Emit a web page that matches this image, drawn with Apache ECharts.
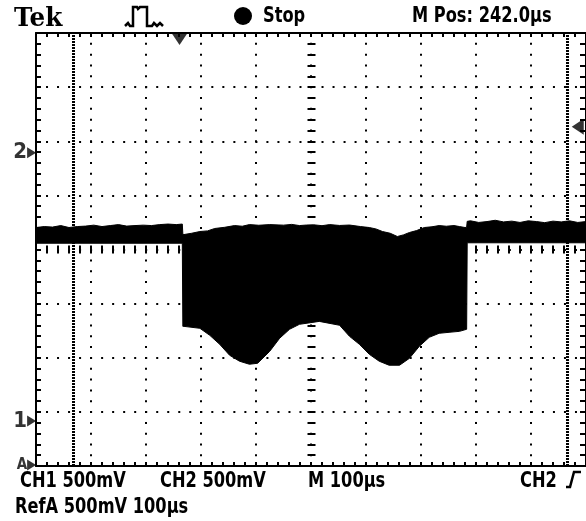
<!DOCTYPE html>
<html><head><meta charset="utf-8">
<script src="https://cdn.jsdelivr.net/npm/echarts@6/dist/echarts.min.js"></script>
<style>html,body{margin:0;padding:0;background:#fff}#c{width:586px;height:521px}</style>
</head><body><div id="c"></div>
<script>
// Time axis (µs, 100 µs/div) and voltage axis (mV relative to screen centre, 500 mV/div)
const timeMin = 0, timeMax = 1000, timeStep = 100;
const mvMin = -2000, mvMax = 2000, mvStep = 500;

// Upper envelope of the trace band (µs, mV)
const upperTime = [0, 15, 30, 45, 60, 75, 90, 105, 120, 135, 150, 165, 180, 195, 210, 225, 240, 255, 266,
  267, 269, 283, 298, 312, 325, 343, 361, 375, 388, 405, 425, 450, 465, 479, 492, 505, 520, 534, 552, 570, 590, 606, 618, 630, 644, 657, 668, 679, 692, 706, 720, 733, 746, 760, 770, 780, 783,
  784, 790, 805, 820, 835, 850, 865, 880, 895, 910, 925, 940, 955, 970, 985, 1000];
const upperMv = [203, 212, 207, 221, 203, 212, 216, 225, 212, 221, 230, 216, 221, 225, 221, 230, 235, 230, 235,
  140, 138, 150, 166, 172, 194, 205, 221, 215, 230, 224, 230, 225, 232, 221, 226, 228, 220, 230, 222, 226, 212, 203, 190, 166, 150, 120, 135, 157, 175, 203, 210, 221, 215, 221, 212, 203, 205,
  260, 265, 250, 258, 270, 255, 262, 250, 265, 258, 248, 262, 255, 265, 250, 258];

// Lower envelope of the trace band (µs, mV)
const lowerTime = [0, 266, 267, 269, 298, 316, 334, 352, 370, 388, 403, 425, 443, 461, 479, 515, 552, 570,
  588, 606, 624, 642, 661, 679, 697, 715, 733, 751, 770, 783, 784, 1000];
const lowerMv = [58, 58, -710, -710, -728, -793, -876, -977, -1032, -1060, -1051, -940, -820, -737, -691, -664, -700, -802,
  -876, -968, -1032, -1069, -1069, -1005, -894, -811, -774, -765, -756, -737, 62, 62];

// Cursors, trigger position / level, channel ground markers
const cursorTimes = [68, 966];
const triggerTime = 261, triggerMarkMv = 1945;
const triggerLevelTime = 985, triggerLevelMv = 1134;
const markerNames = ['2', '1', 'A'];
const markerMv = [894, -1585, -1990];
const markerTime = -8;

// Screen texts
const textTek = 'Tek';
const textStop = 'Stop';
const textMPos = 'M Pos: 242.0µs';
const textCh1 = 'CH1 500mV';
const textCh2 = 'CH2 500mV';
const textM = 'M 100µs';
const textTrig = 'CH2';
const textRef = 'RefA 500mV 100µs';

const FONT = "bold 22px 'DejaVu Sans Condensed','DejaVu Sans',sans-serif";
const SX = 0.82;
const BLACK = '#000';

const bandPoints = [];
upperTime.forEach((t, i) => bandPoints.push([t, upperMv[i]]));
for (let i = lowerTime.length - 1; i >= 0; i--) bandPoints.push([lowerTime[i], lowerMv[i]]);

function axisX(extra) {
  return Object.assign({
    type: 'value', min: timeMin, max: timeMax, interval: timeStep,
    axisLabel: { show: false },
    axisLine: { show: true, onZero: false, lineStyle: { color: BLACK, width: 2 } },
    axisTick: { show: true, inside: true, length: 4, lineStyle: { color: BLACK, width: 2 } },
    minorTick: { show: true, splitNumber: 5, length: 4, lineStyle: { color: BLACK, width: 2 } },
    splitLine: { show: false }
  }, extra);
}
function axisY(extra) {
  return Object.assign({
    type: 'value', min: mvMin, max: mvMax, interval: mvStep,
    axisLabel: { show: false },
    axisLine: { show: true, onZero: false, lineStyle: { color: BLACK, width: 2 } },
    axisTick: { show: true, inside: true, length: 5, lineStyle: { color: BLACK, width: 2 } },
    minorTick: { show: true, splitNumber: 5, length: 5, lineStyle: { color: BLACK, width: 2 } },
    splitLine: { show: false }
  }, extra);
}
function txt(text, x, y) {
  return { type: 'text', x: x, y: y, scaleX: SX, z: 10,
    style: { text: text, font: FONT, fill: BLACK, verticalAlign: 'middle' } };
}

const chart = echarts.init(document.getElementById('c'), null, { renderer: 'canvas' });
chart.setOption({
  animation: false,
  backgroundColor: '#fff',
  grid: { left: 36, top: 33, width: 551, height: 433 },
  xAxis: [
    axisX({ position: 'bottom',
      splitLine: { show: true, lineStyle: { color: BLACK, width: 2, type: [2, 8.83], dashOffset: 1 } } }),
    axisX({ position: 'top' }),
    axisX({ position: 'bottom', offset: -216.5, axisLine: { show: false, onZero: false },
      axisTick: { show: true, inside: true, length: 4, lineStyle: { color: BLACK, width: 2 } } }),
    axisX({ position: 'bottom', offset: -216.5, axisLine: { show: false, onZero: false },
      axisTick: { show: true, inside: false, length: 4, lineStyle: { color: BLACK, width: 2 } } })
  ],
  yAxis: [
    axisY({ position: 'left',
      splitLine: { show: true, lineStyle: { color: BLACK, width: 2, type: [2, 9.02], dashOffset: 1 } } }),
    axisY({ position: 'right', axisTick: { show: true, inside: true, length: 6, lineStyle: { color: BLACK, width: 2 } },
      minorTick: { show: true, splitNumber: 5, length: 6, lineStyle: { color: BLACK, width: 2 } } }),
    axisY({ position: 'left', offset: -275.5, axisLine: { show: false, onZero: false },
      axisTick: { show: true, inside: true, length: 4, lineStyle: { color: BLACK, width: 2 } },
      minorTick: { show: true, splitNumber: 5, length: 4, lineStyle: { color: BLACK, width: 2 } } }),
    axisY({ position: 'left', offset: -275.5, axisLine: { show: false, onZero: false },
      axisTick: { show: true, inside: false, length: 4, lineStyle: { color: BLACK, width: 2 } },
      minorTick: { show: true, splitNumber: 5, length: 4, lineStyle: { color: BLACK, width: 2 } } })
  ],
  series: [
    {
      type: 'custom', xAxisIndex: 0, yAxisIndex: 0, silent: true, z: 3,
      data: [[0, 0]],
      renderItem: function (params, api) {
        const pts = bandPoints.map(p => api.coord(p));
        return { type: 'polygon', shape: { points: pts }, style: { fill: BLACK, stroke: BLACK, lineWidth: 1 } };
      },
      markLine: {
        silent: true, symbol: ['none', 'none'], label: { show: false },
        lineStyle: { color: BLACK, width: 3, type: [2, 1] },
        data: cursorTimes.map(t => ({ xAxis: t }))
      }
    },
    {
      type: 'scatter', xAxisIndex: 0, yAxisIndex: 0, silent: true, clip: false, z: 5,
      symbol: 'triangle', symbolRotate: 180, symbolSize: [16, 12],
      itemStyle: { color: BLACK },
      data: [[triggerTime, triggerMarkMv]]
    },
    {
      type: 'scatter', xAxisIndex: 0, yAxisIndex: 0, silent: true, clip: false, z: 5,
      symbol: 'triangle', symbolRotate: 90, symbolSize: [16, 12],
      itemStyle: { color: BLACK },
      data: [[triggerLevelTime, triggerLevelMv]]
    },
    {
      type: 'scatter', xAxisIndex: 0, yAxisIndex: 0, silent: true, clip: false, z: 5,
      symbol: 'triangle', symbolRotate: -90, symbolSize: [11, 9],
      itemStyle: { color: BLACK },
      label: { show: true, position: 'left', distance: 0, color: BLACK,
        fontFamily: "'DejaVu Sans Condensed','DejaVu Sans',sans-serif", fontWeight: 'bold', fontSize: 22,
        formatter: p => p.value[2] },
      data: markerNames.map((n, i) => i === 2
        ? { value: [markerTime, markerMv[i], n], label: { fontSize: 15 } }
        : [markerTime, markerMv[i], n])
    }
  ],
  graphic: [
    { type: 'text', x: 14, y: 19, z: 10, scaleX: 0.95, style: { text: textTek, font: "bold 26px 'DejaVu Serif'", fill: BLACK, verticalAlign: 'middle' } },
    { type: 'polyline', z: 10, shape: { points: [[125, 26], [128, 23], [130, 26], [133, 26], [133, 7], [137, 7], [138, 9], [140, 7], [147, 7], [147, 26], [152, 26], [154, 23], [157, 26], [160, 23], [163, 26]] },
      style: { stroke: BLACK, lineWidth: 2.5, fill: null } },
    { type: 'circle', z: 10, shape: { cx: 243, cy: 16, r: 9 }, style: { fill: BLACK } },
    txt(textStop, 263, 16),
    txt(textMPos, 412, 16),
    txt(textCh1, 20, 481),
    txt(textCh2, 160, 481),
    txt(textM, 308, 481),
    txt(textTrig, 520, 481),
    { type: 'polyline', z: 10, shape: { points: [[566, 487], [570, 487], [574, 472], [581, 472]] },
      style: { stroke: BLACK, lineWidth: 2.5, fill: null } },
    txt(textRef, 15, 507)
  ]
});
</script>
</body></html>
